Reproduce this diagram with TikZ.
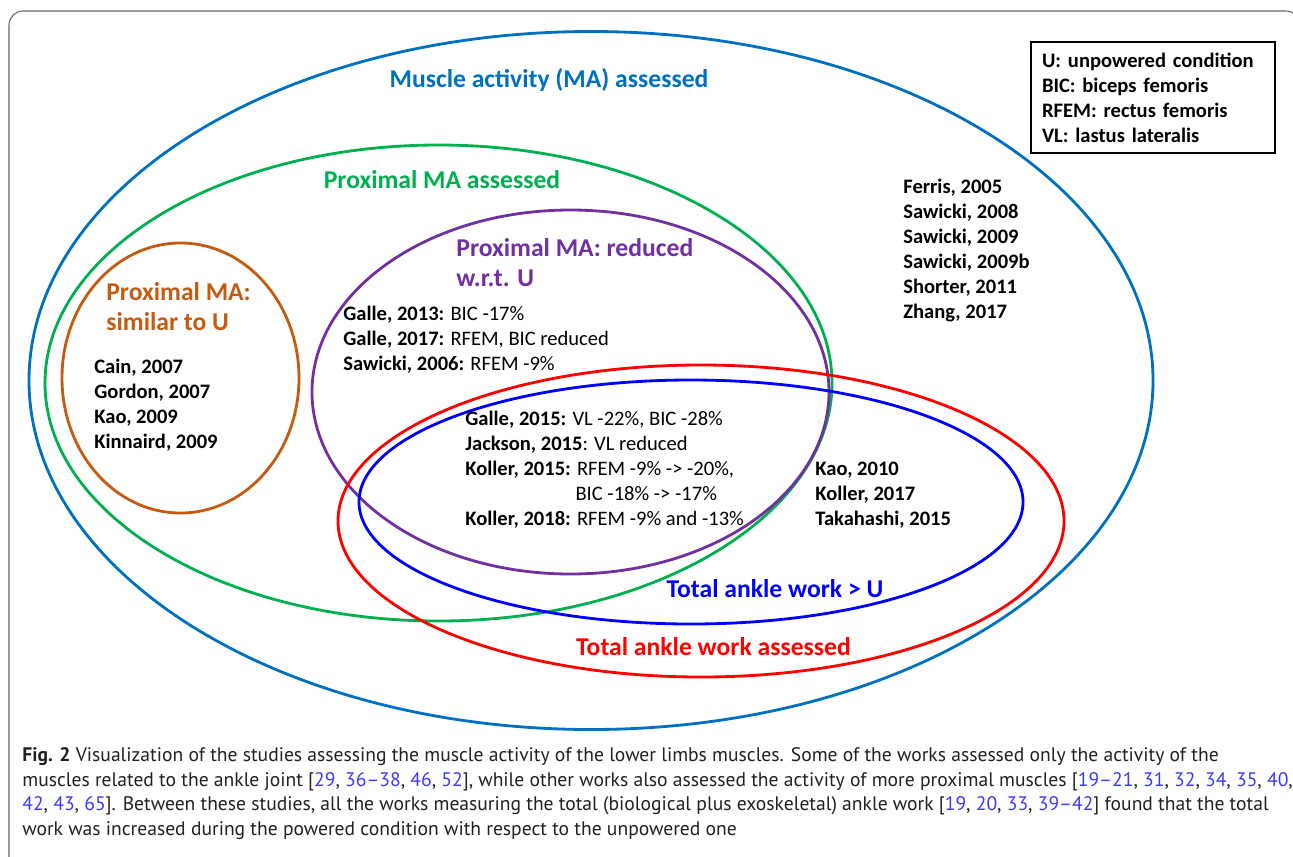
\documentclass[tikz,border=0pt]{standalone}
\usepackage{fontspec}
\setmainfont{Carlito}
\newfontfamily\capfont{PT Sans}
\usetikzlibrary{positioning}

\definecolor{maBlue}{HTML}{0070C0}
\definecolor{proxGreen}{HTML}{00B050}
\definecolor{simOrange}{HTML}{C55A11}
\definecolor{redPurple}{HTML}{7030A0}
\definecolor{ankleRed}{HTML}{FF0000}
\definecolor{ankleBlue}{HTML}{0000FF}
\definecolor{capGray}{HTML}{231F20}
\definecolor{capBlue}{HTML}{3A3AFF}
\newcommand{\refno}[1]{{\color{capBlue}#1}}

\begin{document}
\begin{tikzpicture}[x=0.02cm,y=-0.02cm,
  venn/.style={line width=1.6pt},
  settitle/.style={font=\fontsize{14.6}{17}\selectfont\bfseries,align=left,inner sep=0pt},
  study/.style={font=\fontsize{11.7}{14.2}\selectfont,align=left,inner sep=0pt}]
  \useasboundingbox (0,0) rectangle (1293,856);
  \draw[gray!80!black,line width=0.6pt,rounded corners=8] (9,880) -- (9,11) -- (1300,11) -- (1300,880);

  \draw[venn,maBlue] (591,380.5) ellipse [x radius=562, y radius=349];
  \draw[venn,proxGreen] (438.5,383) ellipse [x radius=393.5, y radius=238];
  \draw[venn,simOrange] (180.5,378) ellipse [x radius=118.5, y radius=135];
  \draw[venn,redPurple] (570.5,392) ellipse [x radius=258.5, y radius=182];
  \draw[venn,ankleBlue] (691,502) ellipse [x radius=332, y radius=122];
  \draw[venn,ankleRed] (701,521) ellipse [x radius=363, y radius=156];

  \node[settitle,maBlue] (tMA) at (549,80) {Muscle activity (MA) assessed};
  \node[settitle,proxGreen] (tProx) at (442,180) {Proximal MA assessed};
  \node[settitle,redPurple,anchor=west] (tRed) at (456,263) {Proximal MA: reduced\\w.r.t. U};
  \node[settitle,simOrange,anchor=west] (tSim) at (106,307) {Proximal MA:\\similar to U};
  \node[settitle,ankleBlue] (tWork) at (775,589) {Total ankle work > U};
  \node[settitle,ankleRed] (tAnkle) at (713.5,647) {Total ankle work assessed};

  \node[study,anchor=west,font=\fontsize{11.7}{14.2}\selectfont\bfseries] (sSim) at (94,405.5)
    {Cain, 2007\\Gordon, 2007\\Kao, 2009\\Kinnaird, 2009};
  \node[study,anchor=west] (sRed) at (343,340)
    {\textbf{Galle, 2013:} BIC -17\%\\
     \textbf{Galle, 2017:} RFEM, BIC reduced\\
     \textbf{Sawicki, 2006:} RFEM -9\%};
  \node[study,anchor=west] (sBoth) at (465,470)
    {\textbf{Galle, 2015:} VL -22\%, BIC -28\%\\
     \textbf{Jackson, 2015}: VL reduced\\
     \textbf{Koller, 2015:} RFEM -9\% -> -20\%,\\
     \phantom{\textbf{Koller, 2015:}} BIC -18\% -> -17\%\\
     \textbf{Koller, 2018:} RFEM -9\% and -13\%};
  \node[study,anchor=west,font=\fontsize{11.7}{14.2}\selectfont\bfseries] (sWork) at (815,495)
    {Kao, 2010\\Koller, 2017\\Takahashi, 2015};
  \node[study,anchor=west,font=\fontsize{11.7}{14.2}\selectfont\bfseries] (sMA) at (903,250.5)
    {Ferris, 2005\\Sawicki, 2008\\Sawicki, 2009\\Sawicki, 2009b\\Shorter, 2011\\Zhang, 2017};

  \node[study,draw,line width=1.2pt,font=\fontsize{11.7}{14.2}\selectfont\bfseries,
    inner xsep=0.22cm,text width=4.44cm,minimum height=2.22cm] (legend) at (1153,97.5)
    {U: unpowered condition\\BIC: biceps femoris\\RFEM: rectus femoris\\VL: lastus lateralis};

  \node[anchor=west,align=left,inner sep=0pt,text=capGray,
    font=\capfont\fontsize{11.15}{13.95}\selectfont] (caption) at (22,793.5)
    {\textbf{Fig. 2} Visualization of the studies assessing the muscle activity of the lower limbs muscles. Some of the works assessed only the activity of the\\
     muscles related to the ankle joint [\refno{29}, \refno{36–38}, \refno{46}, \refno{52}], while other works also assessed the activity of more proximal muscles [\refno{19–21}, \refno{31}, \refno{32}, \refno{34}, \refno{35}, \refno{40},\\
     \refno{42}, \refno{43}, \refno{65}]. Between these studies, all the works measuring the total (biological plus exoskeletal) ankle work [\refno{19}, \refno{20}, \refno{33}, \refno{39–42}] found that the total\\
     work was increased during the powered condition with respect to the unpowered one};
\end{tikzpicture}
\end{document}
